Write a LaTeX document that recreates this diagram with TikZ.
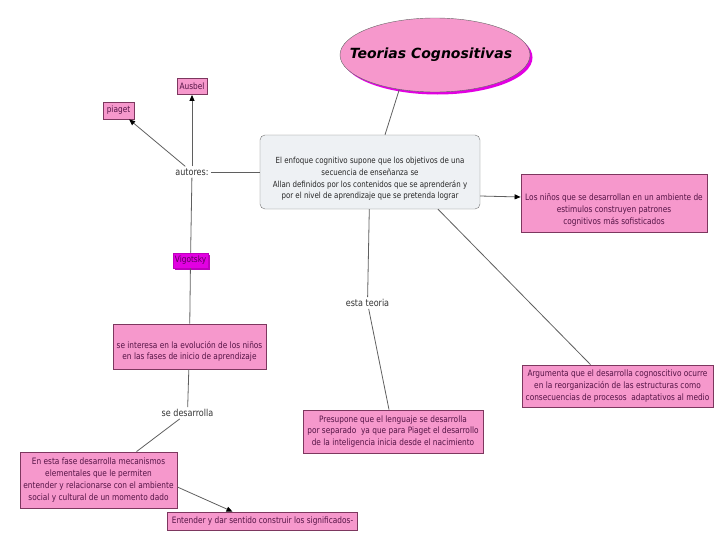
\documentclass[tikz,border=0pt]{standalone}
\usepackage{fontspec}
\setmainfont{DejaVu Sans}[FakeStretch=0.84]
\newfontfamily\titulofont{DejaVu Sans}[BoldItalicFont={DejaVu Sans Bold Oblique}]
\usetikzlibrary{shapes.geometric,arrows.meta,shadows}
\definecolor{rosa}{RGB}{246,152,204}
\definecolor{rosaborde}{RGB}{125,55,95}
\definecolor{rosatexto}{RGB}{85,20,70}
\definecolor{morado}{RGB}{226,0,226}
\definecolor{sombra}{RGB}{190,0,190}
\definecolor{gris}{RGB}{238,241,244}
\definecolor{linea}{RGB}{95,95,95}
\def\pad#1{\rule{0pt}{#1}}

\begin{document}
\begin{tikzpicture}[x=1pt,y=-1pt,
    font=\fontsize{8.8}{11.8}\selectfont,
    caja/.style={draw=rosaborde,fill=rosa,text=rosatexto,align=center,
      inner sep=0pt,line width=0.8pt},
    enlace/.style={draw=linea,line width=0.8pt},
    flecha/.style={enlace,-{Triangle[length=6pt,width=5pt,color=black]}},
    etiq/.style={text=black!80,inner sep=2pt,font=\fontsize{9.6}{11}\selectfont}]
  \useasboundingbox (0,0) rectangle (728,546);

  % titulo y nodo central
  \node[ellipse,draw=black!60,fill=rosa,minimum width=190pt,minimum height=74pt,
    inner xsep=-16pt,inner ysep=0pt,
    drop shadow={shadow xshift=2.5pt,shadow yshift=-2.5pt,fill=morado,opacity=1},
    font=\titulofont\fontsize{14}{16}\selectfont\bfseries\itshape] (titulo) at (435,55)
    {\hspace*{-8pt}Teorias Cognositivas};
  \node[draw=black!55,fill=gris,rounded corners=5pt,minimum width=220pt,minimum height=74pt,
    align=center,inner sep=0pt,text=black!85,font=\fontsize{8.4}{11.8}\selectfont] (main) at (370,172)
    {\pad{20pt}El enfoque cognitivo supone que los objetivos de una\\
     secuencia de enseñanza se\\
     Allan definidos por los contenidos que se aprenderán y\\
     por el nivel de aprendizaje que se pretenda lograr};

  % rama izquierda
  \node[etiq] (autores) at (192,172) {autores:};
  \node[caja,minimum width=30pt,minimum height=16pt] (ausbel) at (192,86.5) {Ausbel};
  \node[caja,minimum width=31pt,minimum height=17pt] (piaget) at (118.5,110.5) {piaget};
  \node[caja,draw=sombra,fill=morado,text=violet!70!black,minimum width=35pt,minimum height=15pt,
    drop shadow={shadow xshift=2pt,shadow yshift=-2pt,fill=sombra,opacity=1}] (vigotsky) at (190.5,260.5) {Vigotsky};
  \node[caja,minimum width=153pt,minimum height=45pt] (interesa) at (189.5,346.5)
    {\pad{17pt}se interesa en la evolución de los niños\\en las fases de inicio de aprendizaje};
  \node[etiq] (sedes) at (187.5,413) {se desarrolla};
  \node[caja,minimum width=157pt,minimum height=56pt] (fase) at (98.5,480)
    {En esta fase desarrolla mecanismos\\elementales que le permiten\\
     entender y relacionarse con el ambiente\\social y cultural de un momento dado};
  \node[caja,minimum width=190pt,minimum height=18pt] (entender) at (262.5,521)
    {Entender y dar sentido construir los significados-};

  % rama central y derecha
  \node[etiq] (esta) at (367.5,303) {esta teoria};
  \node[caja,minimum width=180pt,minimum height=43pt] (presupone) at (393,431.5)
    {Presupone que el lenguaje se desarrolla\\por separado \ ya que para Piaget el desarrollo\\
     de la inteligencia inicia desde el nacimiento};
  \node[caja,minimum width=186pt,minimum height=58pt] (ninos) at (614,203)
    {\pad{21pt}Los niños que se desarrollan en un ambiente de\\estimulos construyen patrones\\
     cognitivos más sofisticados};
  \node[caja,minimum width=191pt,minimum height=42pt] (argumenta) at (617.5,386)
    {Argumenta que el desarrolla cognoscitivo ocurre\\en la reorganización de las estructuras como\\
     consecuencias de procesos \ adaptativos al medio};

  % enlaces
  \draw[enlace] (titulo.224) -- ([xshift=15pt]main.north);
  \draw[enlace] (autores) -- (main);
  \draw[flecha] (autores) -- (ausbel);
  \draw[flecha] (autores) -- (piaget);
  \draw[enlace] (autores) -- (vigotsky);
  \draw[enlace] (vigotsky) -- (interesa);
  \draw[enlace] (interesa) -- (sedes);
  \draw[enlace] (sedes) -- ([xshift=38pt]fase.north);
  \draw[flecha] ([yshift=-7pt]fase.east) -- ([xshift=-30pt]entender.north);
  \draw[enlace] (main) -- (esta);
  \draw[enlace] (esta) -- ([xshift=-4pt]presupone.north);
  \draw[flecha] ([yshift=-24pt]main.east) -- ([yshift=6pt]ninos.west);
  \draw[enlace] ([xshift=68pt]main.south) -- ([xshift=-27pt]argumenta.north);
\end{tikzpicture}
\end{document}
